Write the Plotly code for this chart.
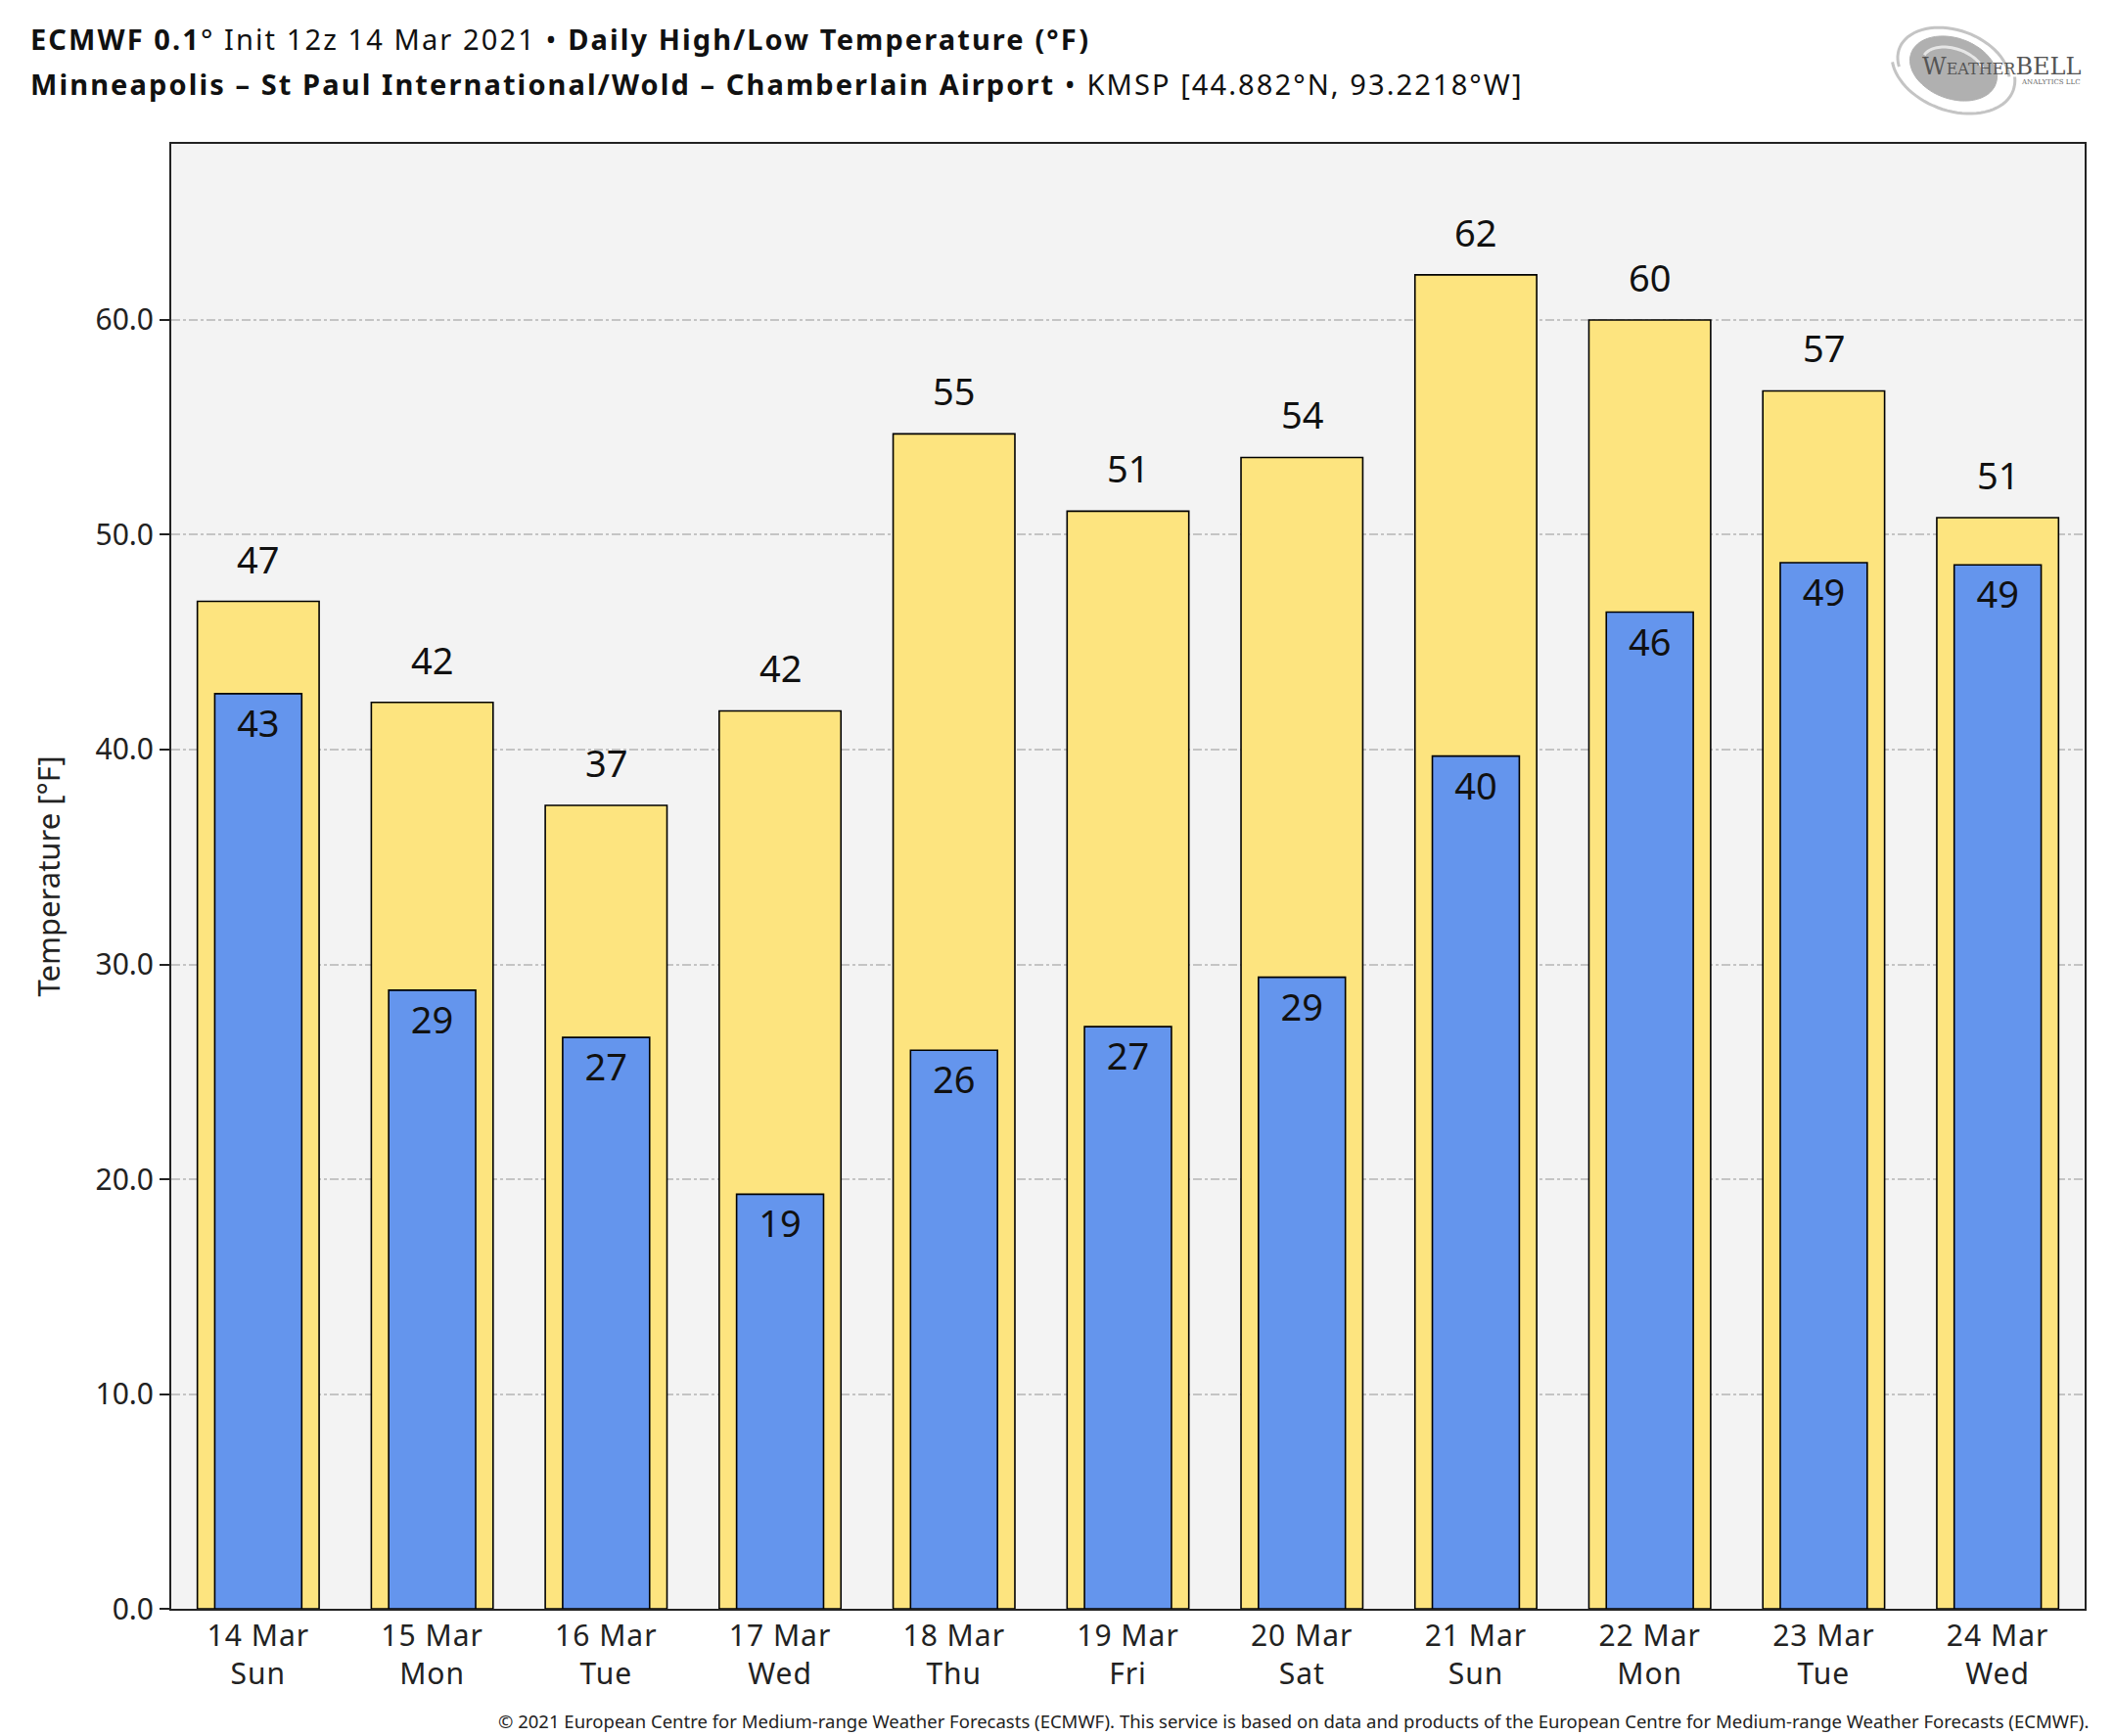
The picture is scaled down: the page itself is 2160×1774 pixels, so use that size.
import numpy as np
import plotly.graph_objects as go

# ---- data ----
dates = ["14 Mar", "15 Mar", "16 Mar", "17 Mar", "18 Mar", "19 Mar",
         "20 Mar", "21 Mar", "22 Mar", "23 Mar", "24 Mar"]
weekdays = ["Sun", "Mon", "Tue", "Wed", "Thu", "Fri", "Sat", "Sun", "Mon", "Tue", "Wed"]
high_temps = [46.9, 42.2, 37.4, 41.8, 54.7, 51.1, 53.6, 62.1, 60.0, 56.7, 50.8]
low_temps = [42.6, 28.8, 26.6, 19.3, 26.0, 27.1, 29.4, 39.7, 46.4, 48.7, 48.6]
y_ticks = [0, 10, 20, 30, 40, 50, 60]

LS = "letter-spacing:1.0px"
categories = [f"<span style='{LS}'>{d}</span><br><span style='{LS}'>{w}</span>"
              for d, w in zip(dates, weekdays)]
x_idx = list(range(len(categories)))

W, H = 2160, 1774
ML, MR, MT, MB = 167, 38, 139, 138
FONT = "Noto Sans"

fig = go.Figure()
fig.add_trace(go.Bar(
    x=x_idx, y=high_temps, width=0.7,
    marker=dict(color="#FDE47F", line=dict(color="black", width=1.6)),
    name="High", showlegend=False, hoverinfo="y",
))
fig.add_trace(go.Bar(
    x=x_idx, y=low_temps, width=0.5,
    marker=dict(color="#6495ED", line=dict(color="black", width=1.6)),
    text=[f"{v:.0f}" for v in low_temps], textposition="inside",
    insidetextanchor="end",
    textfont=dict(family=FONT, size=38, color="#111111"),
    name="Low", showlegend=False, hoverinfo="y",
))

fig.update_layout(
    width=W, height=H,
    margin=dict(l=ML, r=MR, t=MT, b=MB, autoexpand=False),
    barmode="overlay",
    paper_bgcolor="white",
    plot_bgcolor="#F3F3F3",
    font=dict(family=FONT, color="#222222"),
)

fig.update_xaxes(
    range=[-0.5, len(categories) - 0.5],
    tickmode="array", tickvals=x_idx, ticktext=categories,
    tickfont=dict(family=FONT, size=30, color="#222222"),
    showgrid=False, zeroline=False,
    showline=True, linecolor="#222222", linewidth=2, mirror=True,
    ticks="", ticklen=0,
)
fig.update_yaxes(
    range=[0, 68.2],
    tickmode="array", tickvals=y_ticks, ticktext=[f"{v:.1f}" for v in y_ticks],
    tickfont=dict(family=FONT, size=30, color="#222222"),
    showgrid=True, gridcolor="#C4C4C4", gridwidth=1.5, griddash="dashdot",
    zeroline=False,
    showline=True, linecolor="#222222", linewidth=2, mirror=True,
    ticks="outside", ticklen=10, tickcolor="#222222", tickwidth=2,
)

TS = "letter-spacing:2.1px"
annotations = [
    dict(text=f"<span style='{TS}'><b>ECMWF 0.1</b>° Init 12z 14 Mar 2021 • <b>Daily High/Low Temperature (°F)</b></span>",
         xref="paper", yref="paper", x=0, y=1, xshift=-ML + 21, yshift=MT - 31,
         xanchor="left", yanchor="middle", showarrow=False,
         font=dict(family=FONT, size=29, color="#111111")),
    dict(text=f"<span style='{TS}'><b>Minneapolis – St Paul International/Wold – Chamberlain Airport</b> • KMSP [44.882°N, 93.2218°W]</span>",
         xref="paper", yref="paper", x=0, y=1, xshift=-ML + 21, yshift=MT - 77,
         xanchor="left", yanchor="middle", showarrow=False,
         font=dict(family=FONT, size=29, color="#111111")),
    dict(text="Temperature [°F]", textangle=-90,
         xref="paper", yref="paper", x=0, y=0.5, xshift=-127,
         xanchor="center", yanchor="middle", showarrow=False,
         font=dict(family=FONT, size=31, color="#222222")),
    dict(text="© 2021 European Centre for Medium-range Weather Forecasts (ECMWF). This service is based on data and products of the European Centre for Medium-range Weather Forecasts (ECMWF).",
         xref="paper", yref="paper", x=1, y=0, xshift=6, yshift=-(1750 - (H - MB)),
         xanchor="right", yanchor="middle", showarrow=False,
         font=dict(family=FONT, size=18.5, color="#222222")),
    # logo text
    dict(text="W<span style='font-size:16px'>EATHER</span>BELL",
         xref="paper", yref="paper", x=1, y=1, xshift=-2, yshift=MT - 60,
         xanchor="right", yanchor="middle", showarrow=False,
         font=dict(family="DejaVu Serif", size=24, color="#555555")),
    dict(text="ANALYTICS LLC",
         xref="paper", yref="paper", x=1, y=1, xshift=-2, yshift=MT - 76,
         xanchor="right", yanchor="middle", showarrow=False,
         font=dict(family="DejaVu Serif", size=7, color="#666666")),
]
# high-temperature labels above the yellow bars, placed through the data axes
for xi, v in zip(x_idx, high_temps):
    annotations.append(dict(
        text=f"{v:.0f}", x=xi, y=v, xref="x", yref="y",
        yanchor="middle", yshift=44, showarrow=False,
        font=dict(family=FONT, size=38, color="#111111")))
fig.update_layout(annotations=annotations)

# decorative logo swirl (pixel-sized shapes anchored to paper)
def ellipse_path(rx, ry, rot_deg, n=60):
    t = np.linspace(0, 2 * np.pi, n)
    r = np.deg2rad(rot_deg)
    xs = rx * np.cos(t) * np.cos(r) - ry * np.sin(t) * np.sin(r)
    ys = rx * np.cos(t) * np.sin(r) + ry * np.sin(t) * np.cos(r)
    return "M " + " L ".join(f"{a:.1f},{b:.1f}" for a, b in zip(xs, ys)) + " Z"

def arc_path(rx, ry, rot_deg, t0, t1, n=40):
    t = np.linspace(t0, t1, n)
    r = np.deg2rad(rot_deg)
    xs = rx * np.cos(t) * np.cos(r) - ry * np.sin(t) * np.sin(r)
    ys = rx * np.cos(t) * np.sin(r) + ry * np.sin(t) * np.cos(r)
    return "M " + " L ".join(f"{a:.1f},{b:.1f}" for a, b in zip(xs, ys))

logo_x = (1988 - ML) / (W - ML - MR)
logo_y = 1 + (MT - 62) / (H - MT - MB)
shapes = [
    dict(type="path", xref="paper", yref="paper", xsizemode="pixel", ysizemode="pixel",
         xanchor=logo_x, yanchor=logo_y, path=ellipse_path(46, 31, -20),
         fillcolor="#B0B0B0", line=dict(color="#B0B0B0", width=1), layer="below"),
    dict(type="path", xref="paper", yref="paper", xsizemode="pixel", ysizemode="pixel",
         xanchor=logo_x, yanchor=logo_y, path=arc_path(59, 39, -20, 0.3, 3.6),
         line=dict(color="#C4C4C4", width=3)),
    dict(type="path", xref="paper", yref="paper", xsizemode="pixel", ysizemode="pixel",
         xanchor=logo_x, yanchor=logo_y, path=arc_path(65, 43, -20, 3.5, 6.6),
         line=dict(color="#C4C4C4", width=3)),
    dict(type="path", xref="paper", yref="paper", xsizemode="pixel", ysizemode="pixel",
         xanchor=logo_x, yanchor=logo_y, path=arc_path(33, 20, -20, 0.5, 3.0),
         line=dict(color="#E6E6E6", width=3)),
]
fig.update_layout(shapes=shapes)

fig.write_html("out.html")
